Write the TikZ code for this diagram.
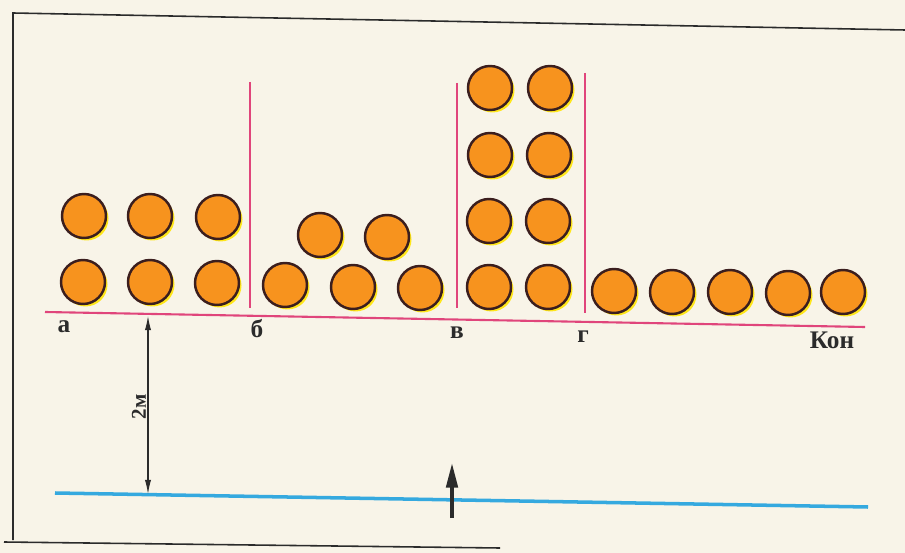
\documentclass[tikz,border=0pt]{standalone}
\usepackage{fontspec}
\setmainfont{Liberation Serif}
\usetikzlibrary{arrows.meta}
\definecolor{paper}{HTML}{F8F4E8}
\definecolor{ballfill}{HTML}{F7931E}
\definecolor{ballline}{HTML}{3B1E1E}
\definecolor{ballglow}{HTML}{FFE61A}
\definecolor{floorline}{HTML}{E0457B}
\definecolor{waterline}{HTML}{35A9DF}
\definecolor{inkline}{HTML}{2B2B2B}
\tikzset{
  ball/.style={fill=ballfill, draw=ballline, line width=1.4pt},
  glow/.style={fill=ballglow},
  divider/.style={floorline, line width=1.1pt},
  letter/.style={font=\bfseries\Large, text=inkline, inner sep=0pt}
}
\begin{document}
\begin{tikzpicture}[x=0.02cm, y=-0.02cm]
    % paper and frame
    \fill[paper] (0,0) rectangle (905,553);
    \useasboundingbox (0,0) rectangle (905,553);
    \draw[inkline, line width=0.9pt] (905,30) -- (13,13) -- (13,540);
    \draw[inkline, line width=0.9pt] (4,542) -- (500,548);

    % floor and water
    \draw[floorline, line width=1.2pt] (45,312) -- (865,327);
    \draw[waterline, line width=2pt] (55,493) -- (868,507);

    % dividers between the sections
    \draw[divider] (250,82) -- (250,308);
    \draw[divider] (457,83) -- (457,308);
    \draw[divider] (585,73) -- (585,313);

    % balls
    \foreach \x/\y in {84/216, 150/216, 218/217, 83/282, 150/282, 217/283,
                       320/235, 387/237, 285/285, 353/287, 420/288,
                       490/88, 550/88, 490/155, 549/155, 489/221, 548/221, 489/287, 548/287,
                       614/291, 672/292, 730/292, 788/293, 843/292} {
        \fill[glow] (\x+2.5,\y+2.5) circle [radius=22];
        \draw[ball] (\x,\y) circle [radius=22];
    }

    % section labels
    \node[letter] (la) at (64,327) {а};
    \node[letter] (lb) at (257,329) {б};
    \node[letter] (lv) at (457,333) {в};
    \node[letter] (lg) at (583,337) {г};
    \node[letter] (lkon) at (832,340) {Кон};

    % height mark
    \coordinate (dimtop) at (148,316);
    \coordinate (dimbot) at (148,494);
    \draw[inkline, line width=0.6pt, {Latex[length=8pt, width=3.5pt]}-{Latex[length=8pt, width=3.5pt]}]
        (dimtop) -- (dimbot);
    \node[letter, font=\bfseries\large, rotate=90] (dimlabel) at (139,407) {2м};

    % lift arrow
    \coordinate (liftfoot) at (452,518);
    \coordinate (lifttip) at (452,463);
    \draw[inkline, line width=2pt, -{Triangle[length=14pt, width=6.5pt]}] (liftfoot) -- (lifttip);
\end{tikzpicture}
\end{document}
